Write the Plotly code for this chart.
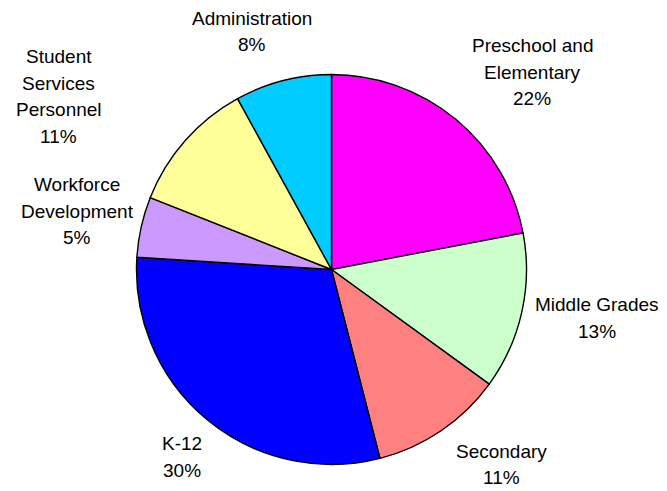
import plotly.graph_objects as go

categories = ["Preschool and Elementary", "Middle Grades", "Secondary", "K-12",
              "Workforce Development", "Student Services Personnel", "Administration"]
display_labels = ["Preschool and<br>Elementary", "Middle Grades", "Secondary", "K-12",
                  "Workforce<br>Development", "Student<br>Services<br>Personnel", "Administration"]
values = [22, 13, 11, 30, 5, 11, 8]
colors = ["#FF00FF", "#CCFFCC", "#FF8080", "#0000FF", "#CC99FF", "#FFFF99", "#00CCFF"]

# label block centres in pixels (layout, not data)
label_px = [(532, 72), (597, 318), (501, 464.5), (182, 457), (77, 211), (58.5, 96.5), (252, 31.5)]
LINE_GAP = 26.7

W, H = 667, 491
cx, cy, r = 331.5, 269.5, 195

fig = go.Figure(go.Pie(
    labels=categories,
    values=values,
    sort=False,
    direction="clockwise",
    rotation=0,
    marker=dict(colors=colors, line=dict(color="black", width=1.4)),
    textinfo="none",
    hoverinfo="label+percent",
    domain=dict(x=[(cx - r) / W, (cx + r) / W], y=[(H - cy - r) / H, (H - cy + r) / H]),
    showlegend=False,
    automargin=False,
))

total = sum(values)
for lab, v, (px, py) in zip(display_labels, values, label_px):
    lines = lab.split("<br>") + [f"{round(v / total * 100)}%"]
    n = len(lines)
    for i, line in enumerate(lines):
        ly = py + (i - (n - 1) / 2) * LINE_GAP
        fig.add_annotation(
            x=px / W, y=1 - ly / H, xref="paper", yref="paper",
            text=line,
            showarrow=False, xanchor="center", yanchor="middle", align="center",
            font=dict(family="Liberation Sans, Arial, sans-serif", size=19, color="black"),
        )

fig.update_layout(
    width=W, height=H,
    margin=dict(l=0, r=0, t=0, b=0),
    paper_bgcolor="white",
    plot_bgcolor="white",
)
fig.write_html("out.html", config={"displayModeBar": False},
               post_script="document.body.style.margin='0';")
